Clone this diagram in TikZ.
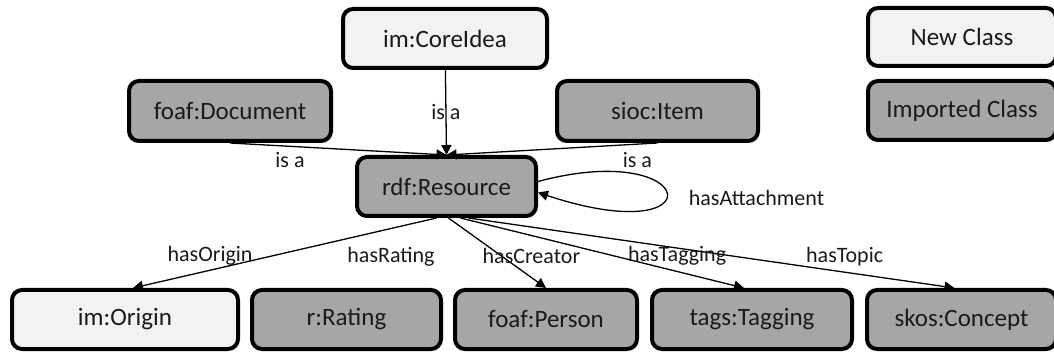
\documentclass[tikz,border=0pt]{standalone}
\usepackage{fontspec}
\setmainfont{Carlito}
\usetikzlibrary{arrows.meta}
\definecolor{newfill}{HTML}{F2F2F2}
\definecolor{impfill}{HTML}{A6A6A6}
\definecolor{txt}{HTML}{1A1A1A}
\begin{document}
\begin{tikzpicture}[x=1pt,y=-1pt,
  cls/.style={draw=black, line width=4pt, rounded corners=10pt, inner sep=0pt,
    text=txt, minimum height=59pt, font=\fontsize{25}{30}\selectfont},
  newcls/.style={cls, fill=newfill},
  impcls/.style={cls, fill=impfill},
  conn/.style={line width=1.3pt, -{Triangle[length=10pt,width=10pt]}},
  lbl/.style={font=\fontsize{22}{26}\selectfont, inner sep=0pt, text=txt}]
\clip (0,0) rectangle (1054,352);
% top
\node[newcls, minimum width=204pt] (core) at (445,38.5) {im:CoreIdea};
\node[impcls, minimum width=202pt, minimum height=60pt] (fdoc) at (230,111) {foaf:Document};
\node[impcls, minimum width=201pt, minimum height=60pt] (sioc) at (657.5,111) {sioc:Item};
% legend
\node[newcls, minimum width=188pt, minimum height=58pt] (newc) at (962,37) {New Class};
\node[impcls, minimum width=188pt] (impc) at (962,110.5) {Imported Class};
% centre
\node[impcls, minimum width=179pt] (res) at (446.5,186.5) {rdf:Resource};
% bottom row
\node[newcls, minimum width=226pt] (orig) at (125,319.5) {im:Origin};
\node[impcls, minimum width=189pt] (rate) at (346.5,319.5) {r:Rating};
\node[impcls, minimum width=182pt] (pers) at (546,319.5) {foaf:Person};
\node[impcls, minimum width=200pt] (tagg) at (752,319.5) {tags:Tagging};
\node[impcls, minimum width=189pt] (conc) at (961.5,319.5) {skos:Concept};
% is a
\draw[conn] (core) -- node[lbl, midway] (lcore) {is a} (res.north);
\draw[conn] (fdoc.south) -- node[lbl, pos=0.277, yshift=-14pt] (lfdoc) {is a} (res.north);
\draw[conn] (sioc.south) -- node[lbl, pos=0.095, yshift=-16pt] (lsioc) {is a} (res.north);
% self loop
\draw[conn] ([yshift=5pt]res.east) .. controls (700,138) and (718,252) ..
  node[lbl, pos=0.5, anchor=west, xshift=22pt, yshift=-5pt] (latt) {hasAttachment}
  ([yshift=-6pt]res.east);
% properties
\draw[conn] ([xshift=-10pt]res.south) -- node[lbl, pos=0.746, yshift=14pt] (lorig) {hasOrigin} ([xshift=8pt]orig.north);
\node[lbl] (lrate) at (391,257) {hasRating};
\draw[conn] ([xshift=2pt]res.south) -- node[lbl, pos=0.543, xshift=30pt] (lpers) {hasCreator} (pers.north);
\draw[conn] ([xshift=14pt]res.south) -- node[lbl, pos=0.764, yshift=15.5pt] (ltagg) {hasTagging} ([xshift=-8pt]tagg.north);
\draw[conn] ([xshift=22pt]res.south) -- node[lbl, pos=0.774, yshift=16pt] (lconc) {hasTopic} ([xshift=-7pt]conc.north);
\end{tikzpicture}
\end{document}
